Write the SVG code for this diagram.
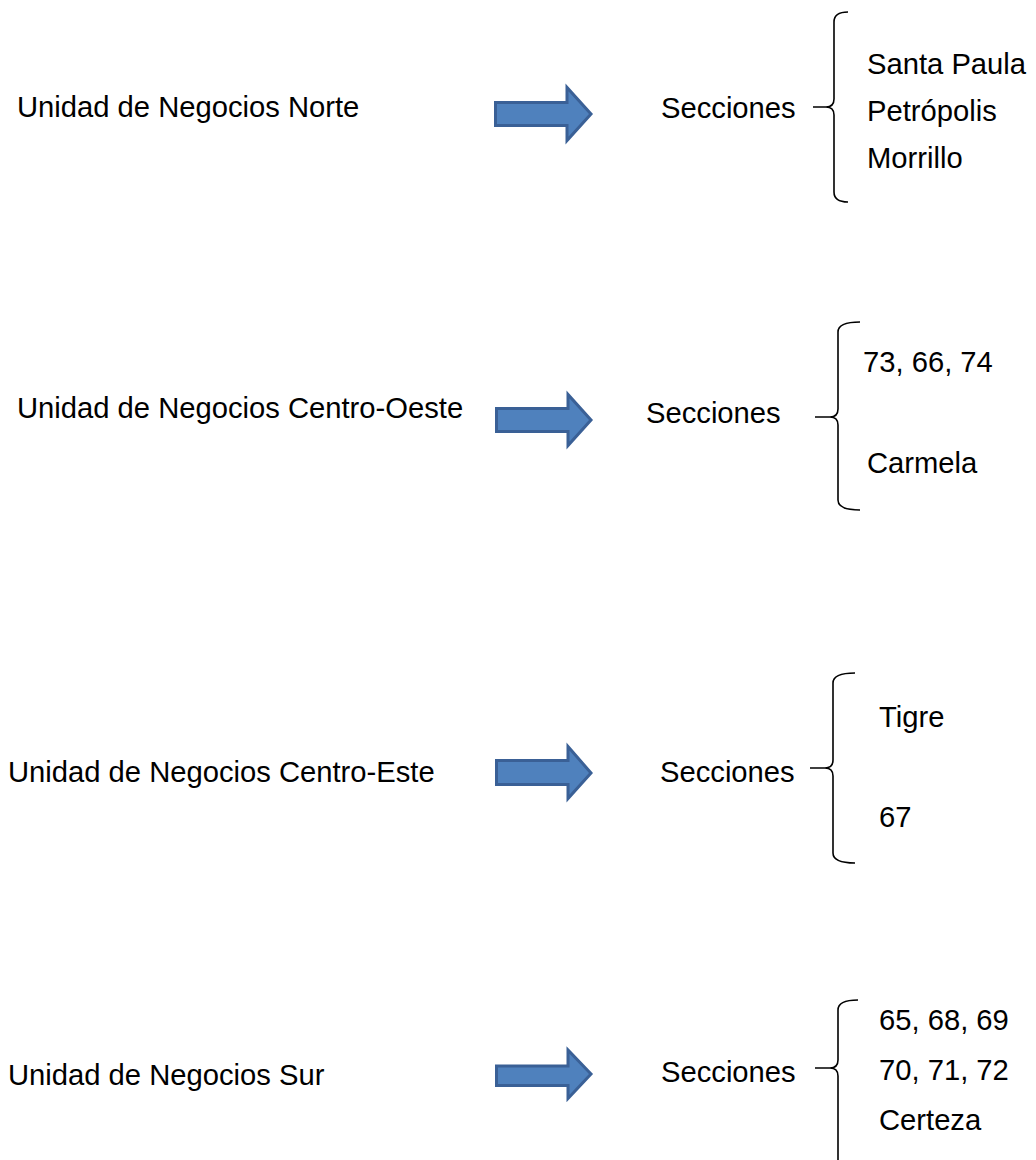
<svg xmlns="http://www.w3.org/2000/svg" width="1036" height="1160" viewBox="0 0 1036 1160">
<style>
text{font-family:"Liberation Sans",Arial,sans-serif;font-size:29.2px;fill:#000}
.arrow{fill:#4F81BD;stroke:#3A6096;stroke-width:3;stroke-linejoin:miter}
.brace{fill:none;stroke:#000;stroke-width:1.6}
</style>
<rect width="1036" height="1160" fill="#fff"/>
<g id="norte">
<text x="17" y="117">Unidad de Negocios Norte</text>
<text x="661" y="118">Secciones</text>
<text x="867" y="74">Santa Paula</text>
<text x="867" y="121">Petrópolis</text>
<text x="867" y="168">Morrillo</text>
</g>
<g id="centro-oeste">
<text x="17" y="418">Unidad de Negocios Centro-Oeste</text>
<text x="646" y="423">Secciones</text>
<text x="863" y="372">73, 66, 74</text>
<text x="867" y="473">Carmela</text>
</g>
<g id="centro-este">
<text x="8" y="782">Unidad de Negocios Centro-Este</text>
<text x="660" y="782">Secciones</text>
<text x="879" y="727">Tigre</text>
<text x="879" y="827">67</text>
</g>
<g id="sur">
<text x="8" y="1085">Unidad de Negocios Sur</text>
<text x="661" y="1082">Secciones</text>
<text x="879" y="1030">65, 68, 69</text>
<text x="879" y="1080">70, 71, 72</text>
<text x="879" y="1130">Certeza</text>
</g>
<g id="connectors">
<path class="arrow" d="M495.5 102.5H567V87.5L591 114L567 140.5V125.5H495.5Z"/>
<path class="arrow" d="M496.5 408.5H568V394.5L591 420L568 445.5V431.5H496.5Z"/>
<path class="arrow" d="M496.5 760.5H568V746.5L591 773L568 798.5V784.5H496.5Z"/>
<path class="arrow" d="M496.5 1066H568V1050L591 1074L568 1098.5V1085.5H496.5Z"/>
<path class="brace" d="M848 12Q834 12 834 22V99Q834 107 826 107H813M826 107Q834 107 834 115V192Q834 202 848 202"/>
<path class="brace" d="M860 322Q838 322 838 332V409Q838 417 830 417H815M830 417Q838 417 838 425V500Q838 510 860 510"/>
<path class="brace" d="M855 673Q833 673 833 683V760Q833 768 825 768H810M825 768Q833 768 833 776V853Q833 863 855 863"/>
<path class="brace" d="M858 1000Q838 1000 838 1010V1060Q838 1068 830 1068H815M830 1068Q838 1068 838 1076V1170"/>
</g>
</svg>
